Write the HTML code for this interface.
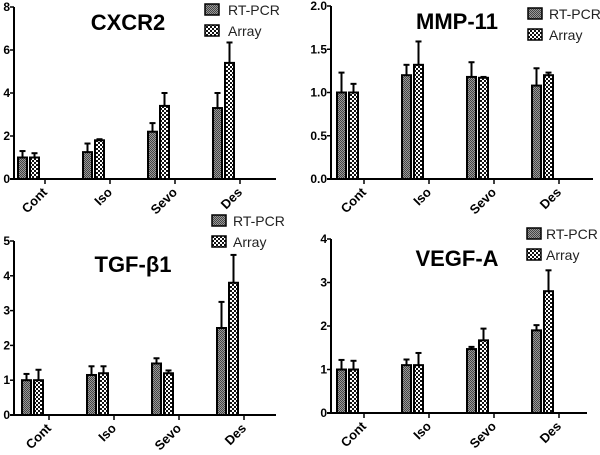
<!DOCTYPE html>
<html><head><meta charset="utf-8"><style>
html,body{margin:0;padding:0;background:#fff;}
svg{display:block;font-family:"Liberation Sans",Arial,sans-serif;}
</style></head><body>
<svg id="chart" width="600" height="455" viewBox="0 0 600 455" xmlns="http://www.w3.org/2000/svg">
<defs>
<pattern id="pRT" patternUnits="userSpaceOnUse" width="2" height="2">
<rect width="2" height="2" fill="#9a9a9a"/><rect width="1" height="1" fill="#444"/><rect x="1" y="1" width="1" height="1" fill="#444"/>
</pattern>
<pattern id="pAR" patternUnits="userSpaceOnUse" width="4" height="4">
<rect width="4" height="4" fill="#fff"/><rect width="2" height="2" fill="#111"/><rect x="2" y="2" width="2" height="2" fill="#111"/>
</pattern>
</defs>
</svg>
<script>
const categories = ["Cont","Iso","Sevo","Des"];
const titles = ["CXCR2","MMP-11","TGF-β1","VEGF-A"];
const rtValues = [[1.0,1.25,2.2,3.3],[1.0,1.2,1.18,1.08],[1.0,1.15,1.48,2.5],[1.0,1.1,1.47,1.9]];
const rtErrors = [[0.3,0.4,0.4,0.7],[0.23,0.12,0.17,0.2],[0.18,0.25,0.15,0.75],[0.22,0.13,0.05,0.12]];
const arValues = [[1.0,1.8,3.4,5.4],[1.0,1.32,1.17,1.2],[1.0,1.2,1.2,3.8],[1.0,1.1,1.67,2.8]];
const arErrors = [[0.2,0.05,0.6,0.95],[0.1,0.27,0.01,0.03],[0.3,0.2,0.08,0.8],[0.2,0.28,0.27,0.48]];
const yMax = [8,2.0,5,4];
const yTickLabels = [["0","2","4","6","8"],["0.0","0.5","1.0","1.5","2.0"],["0","1","2","3","4","5"],["0","1","2","3","4"]];

const layout = [
 {ax:14,top:7,bot:179,xend:276,bar0:18,title:[128,30],leg:[205,4,228]},
 {ax:331,top:6,bot:179,xend:593,bar0:337,title:[457,29],leg:[528,8,549]},
 {ax:14,top:241,bot:415,xend:276,bar0:22,title:[133,272],leg:[212,215,233]},
 {ax:331,top:239,bot:413,xend:587,bar0:337,title:[457,266],leg:[527,228,546]}
];
const NS="http://www.w3.org/2000/svg";
const svg=document.getElementById('chart');
function mk(tag,attrs,parent){const e=document.createElementNS(NS,tag);for(const k in attrs)e.setAttribute(k,attrs[k]);(parent||svg).appendChild(e);return e;}

layout.forEach((L,p)=>{
 const g=mk('g',{});
 
 
 const y=v=>L.bot-(v/yMax[p])*(L.bot-L.top);
 const xRT=i=>L.bar0+i*65;
 categories.forEach((c,i)=>{
  [[rtValues,rtErrors,'url(#pRT)',0,'rt-pcr'],[arValues,arErrors,'url(#pAR)',12,'array']].forEach(([vals,errs,fill,off,nm])=>{
   const v=vals[p][i],e=errs[p][i],x=xRT(i)+off,w=9;
   const cx=x+w/2;
   const el=mk('line',{x1:cx,x2:cx,y1:y(v),y2:y(v+e),stroke:'#000','stroke-width':2},g);
   
   
   const cap=mk('line',{x1:cx-3,x2:cx+3,y1:y(v+e),y2:y(v+e),stroke:'#000','stroke-width':2},g);
   
   
   const r=mk('rect',{x:x,y:y(v),width:w,height:L.bot-y(v),fill:fill,stroke:'#000','stroke-width':2},g);
   
   
  });
  const tx=xRT(i)+27;
  const t=mk('line',{x1:tx,x2:tx,y1:L.bot,y2:L.bot+5,stroke:'#000','stroke-width':1.5},g);
  
  
  const lb=mk('text',{x:tx+3,y:L.bot+14,'text-anchor':'end','font-size':13,'font-weight':'bold',transform:`rotate(-45 ${tx+3} ${L.bot+14})`},g);
  lb.textContent=c;
  
  
 });
 const ya=mk('line',{x1:L.ax,x2:L.ax,y1:L.top,y2:L.bot,stroke:'#000','stroke-width':2},g);
 
 
 const xa=mk('line',{x1:L.ax-4,x2:L.xend,y1:L.bot,y2:L.bot,stroke:'#000','stroke-width':2},g);
 
 
 const n=yTickLabels[p].length;
 yTickLabels[p].forEach((s,k)=>{
  const v=yMax[p]*k/(n-1),yy=y(v);
  const tk=mk('line',{x1:L.ax-4,x2:L.ax,y1:yy,y2:yy,stroke:'#000','stroke-width':1.5},g);
  
  
  const tl=mk('text',{x:L.ax-4,y:yy+4,'text-anchor':'end','font-size':12,'font-weight':'bold'},g);
  tl.textContent=s;
  
  
 });
 const tt=mk('text',{x:L.title[0],y:L.title[1],'text-anchor':'middle','font-size':22,'font-weight':'bold'},g);
 tt.textContent=titles[p];
 
 
 [['RT-PCR','url(#pRT)'],['Array','url(#pAR)']].forEach(([s,f],k)=>{
  const yy=L.leg[1]+k*21;
  const b=mk('rect',{x:L.leg[0],y:yy,width:14,height:11,fill:f,stroke:'#000','stroke-width':1.5},g);
  
  
  const lt=mk('text',{x:L.leg[2],y:yy+11,'font-size':14,fill:'#222'},g);
  lt.textContent=s;
  
  
 });
});
</script>
</body></html>
